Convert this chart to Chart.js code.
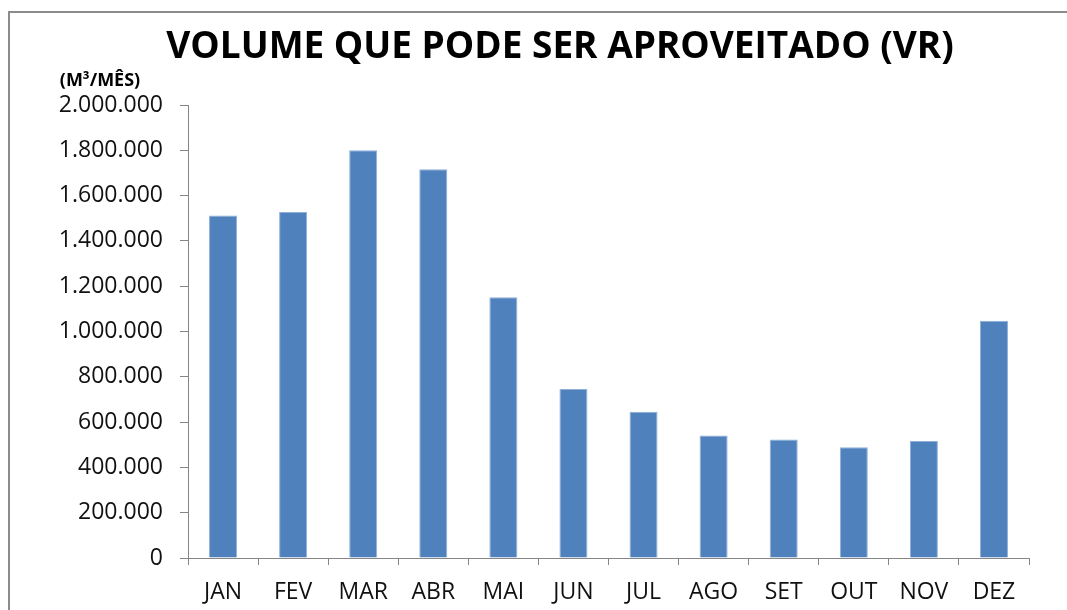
<!DOCTYPE html>
<html>
<head>
<meta charset="utf-8">
<script src="https://cdn.jsdelivr.net/npm/chart.js@4/dist/chart.umd.min.js"></script>
<style>
  html, body { margin: 0; padding: 0; background: #fff; }
  #wrap { width: 1067px; height: 610px; }
</style>
</head>
<body>
<div id="wrap"><canvas id="grafico"></canvas></div>
<script>
// dados
const meses = ['JAN', 'FEV', 'MAR', 'ABR', 'MAI', 'JUN', 'JUL', 'AGO', 'SET', 'OUT', 'NOV', 'DEZ'];
const volumes = [1512000, 1528000, 1800000, 1716000, 1151000, 746000, 646000, 541000, 523000, 489000, 517000, 1047000];
const yMin = 0;
const yMax = 2000000;
const yStep = 200000;

const titulo = 'VOLUME QUE PODE SER APROVEITADO (VR)';
const unidade = '(M³/MÊS)';

function formataNumero(v) {
    return String(Math.round(v)).replace(/\B(?=(\d{3})+(?!\d))/g, '.');
}

// moldura, titulo e unidade
const extras = {
    id: 'extras',
    beforeDraw(chart) {
        const ctx = chart.ctx;
        ctx.save();
        ctx.fillStyle = '#fff';
        ctx.fillRect(0, 0, chart.width, chart.height);
        ctx.strokeStyle = '#8c8c8c';
        ctx.lineWidth = 2;
        ctx.beginPath();
        ctx.moveTo(9, chart.height);
        ctx.lineTo(9, 12);
        ctx.lineTo(chart.width, 12);
        ctx.stroke();
        ctx.restore();
    },
    afterDraw(chart) {
        const ctx = chart.ctx;
        ctx.save();
        ctx.fillStyle = '#000';
        ctx.textAlign = 'center';
        ctx.textBaseline = 'alphabetic';
        ctx.font = 'bold 37px "Open Sans"';
        ctx.fillText(titulo, 560, 58);
        ctx.font = 'bold 18px "Open Sans"';
        ctx.fillText(unidade, 100, 86);
        ctx.restore();
    }
};

new Chart(document.getElementById('grafico'), {
    type: 'bar',
    data: {
        labels: meses,
        datasets: [{
            data: volumes,
            backgroundColor: '#4f81bd',
            borderColor: '#8fb0d8',
            borderWidth: 1,
            barPercentage: 0.4,
            categoryPercentage: 1.0
        }]
    },
    options: {
        responsive: true,
        maintainAspectRatio: false,
        animation: false,
        layout: { padding: { top: 105, right: 38, left: 0, bottom: 0 } },
        plugins: {
            legend: { display: false },
            title: { display: false },
            tooltip: { enabled: false }
        },
        scales: {
            x: {
                offset: true,
                grid: {
                    offset: true,
                    drawOnChartArea: false,
                    color: '#868686',
                    tickLength: 7
                },
                border: { color: '#868686', width: 1 },
                ticks: {
                    color: '#111',
                    padding: 14,
                    font: { family: '"Open Sans"', size: 23 }
                },
                afterFit(scale) { scale.height = 52; }
            },
            y: {
                min: yMin,
                max: yMax,
                grid: {
                    drawOnChartArea: false,
                    color: '#868686',
                    tickLength: 8
                },
                border: { color: '#868686', width: 1 },
                ticks: {
                    stepSize: yStep,
                    color: '#111',
                    padding: 17,
                    font: { family: '"Open Sans"', size: 23 },
                    callback: (v) => formataNumero(v)
                },
                afterFit(scale) { scale.width = 188; }
            }
        }
    },
    plugins: [extras]
});
</script>
</body>
</html>
